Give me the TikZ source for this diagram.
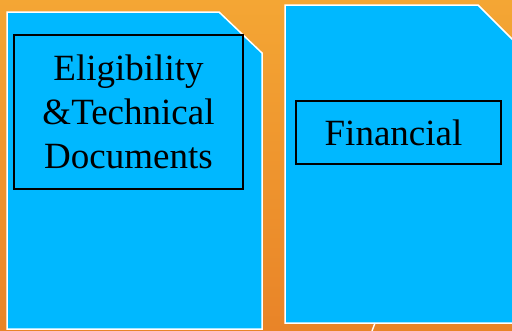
\documentclass[tikz,border=0pt]{standalone}
\usepackage{fontspec}
\setmainfont{Liberation Serif}
\definecolor{bgtop}{RGB}{244,166,52}
\definecolor{bgbot}{RGB}{233,132,40}
\definecolor{doccyan}{RGB}{0,184,255}
\tikzset{
  docsheet/.style={fill=doccyan, draw=white, line width=1.5pt},
  labelfont/.style={font=\fontsize{37}{44}\selectfont, align=center, inner sep=0pt},
  labelbox/.style={draw=black, line width=1.6pt, labelfont}
}
\begin{document}
\begin{tikzpicture}[x=1pt,y=-1pt]
  % 背景
  \useasboundingbox (0,0) rectangle (512,330);
  \clip (0,0) rectangle (512,330);
  \shade[top color=bgtop, bottom color=bgbot] (0,0) rectangle (512,330);

  % 左の書類
  \draw[docsheet] (7,329) -- (7,12) -- (219,12) -- (262,53) -- (262,329) -- cycle;
  % 右の書類
  \draw[docsheet] (285,323) -- (285,5) -- (478,5) -- (545,72) -- (545,323) -- cycle;

  % 下の線
  \coordinate (edgeA) at (375,323);
  \coordinate (edgeB) at (372,331);
  \draw[white, line width=1.4pt] (edgeA) -- (edgeB);

  % ラベル
  \node[labelbox, minimum width=229, minimum height=154] (elig) at (128.5,112)
    {Eligibility\\\&Technical\\Documents};
  \node[labelbox, minimum width=205, minimum height=63] (fin) at (398.5,132.5) {};
  \node[labelfont] (fintext) at ([xshift=-5pt]fin.center) {Financial};
\end{tikzpicture}
\end{document}
